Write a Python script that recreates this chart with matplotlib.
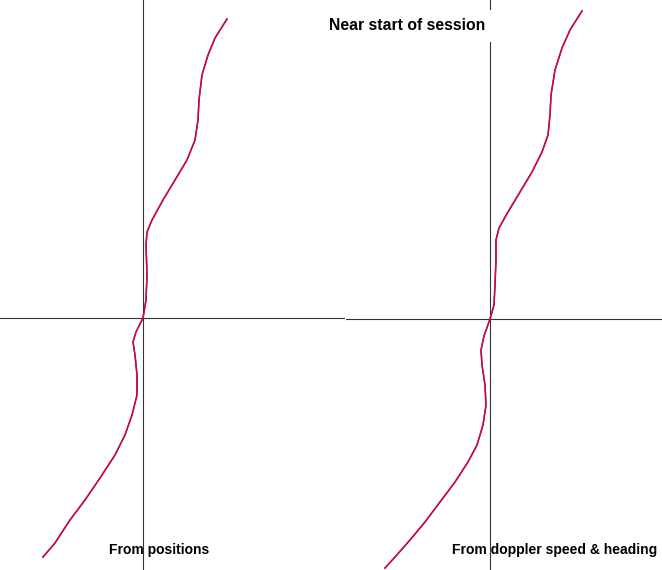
import matplotlib.pyplot as plt

# track offsets (east, north) relative to session start, arbitrary units
pos_east = [-100, -88, -73, -58, -43, -28, -18, -11, -6, -6, -8, -10, -7, 0,
            3, 4, 3, 4, 9, 20, 32, 44, 52, 55, 56, 59, 65, 72, 84]
pos_north = [-239, -225, -202, -182, -160, -137, -117, -97, -77, -57, -37, -24, -14, 0,
             18, 43, 73, 86, 98, 118, 138, 158, 178, 198, 218, 243, 263, 280, 299]

dop_east = [-105, -95, -80, -65, -50, -35, -22, -13, -7, -4, -5, -8, -9, -6, 0,
            4, 5, 6, 6, 9, 18, 30, 42, 52, 58, 60, 61, 65, 72, 80, 92]
dop_north = [-249, -238, -221, -203, -183, -163, -143, -126, -106, -86, -66, -46, -31, -17, 0,
             14, 34, 59, 79, 91, 107, 127, 147, 167, 184, 204, 224, 249, 271, 289, 308]

W, H = 662, 570
fig = plt.figure(figsize=(W / 100, H / 100), dpi=100)
plt.rcParams['font.family'] = ['Liberation Sans', 'DejaVu Sans']


def panel(left_px, right_px, ox, oy, east, north):
    ax = fig.add_axes([left_px / W, 0, (right_px - left_px) / W, 1])
    ax.set_xlim(left_px - ox, right_px - ox)
    ax.set_ylim(oy - H, oy)
    ax.axis('off')
    ax.patch.set_visible(False)
    ax.axhline(0, color='#333333', lw=0.8, zorder=3)
    ax.axvline(0, color='#333333', lw=0.8, zorder=3)
    ax.plot(east, north, color='#3030c0', lw=1.1, zorder=4)
    ax.plot(east, north, color='#e8002a', lw=1.0, zorder=5)
    return ax


ax1 = panel(0, 345, 143, 318, pos_east, pos_north)
ax2 = panel(346, 662, 490, 319, dop_east, dop_north)

fig.text(159 / W, 1 - 550 / H, 'From positions', ha='center', va='center',
         fontsize=10, fontweight='bold', zorder=-1)
fig.text(555 / W, 1 - 550 / H, 'From doppler speed & heading', ha='center', va='center',
         fontsize=10, fontweight='bold', zorder=-1)
fig.text(407 / W, 1 - 26 / H, 'Near start of session', ha='center', va='center',
         fontsize=11.3, fontweight='bold', zorder=10,
         bbox=dict(facecolor='white', edgecolor='none', pad=6))

fig.savefig('out.png', dpi=100)
